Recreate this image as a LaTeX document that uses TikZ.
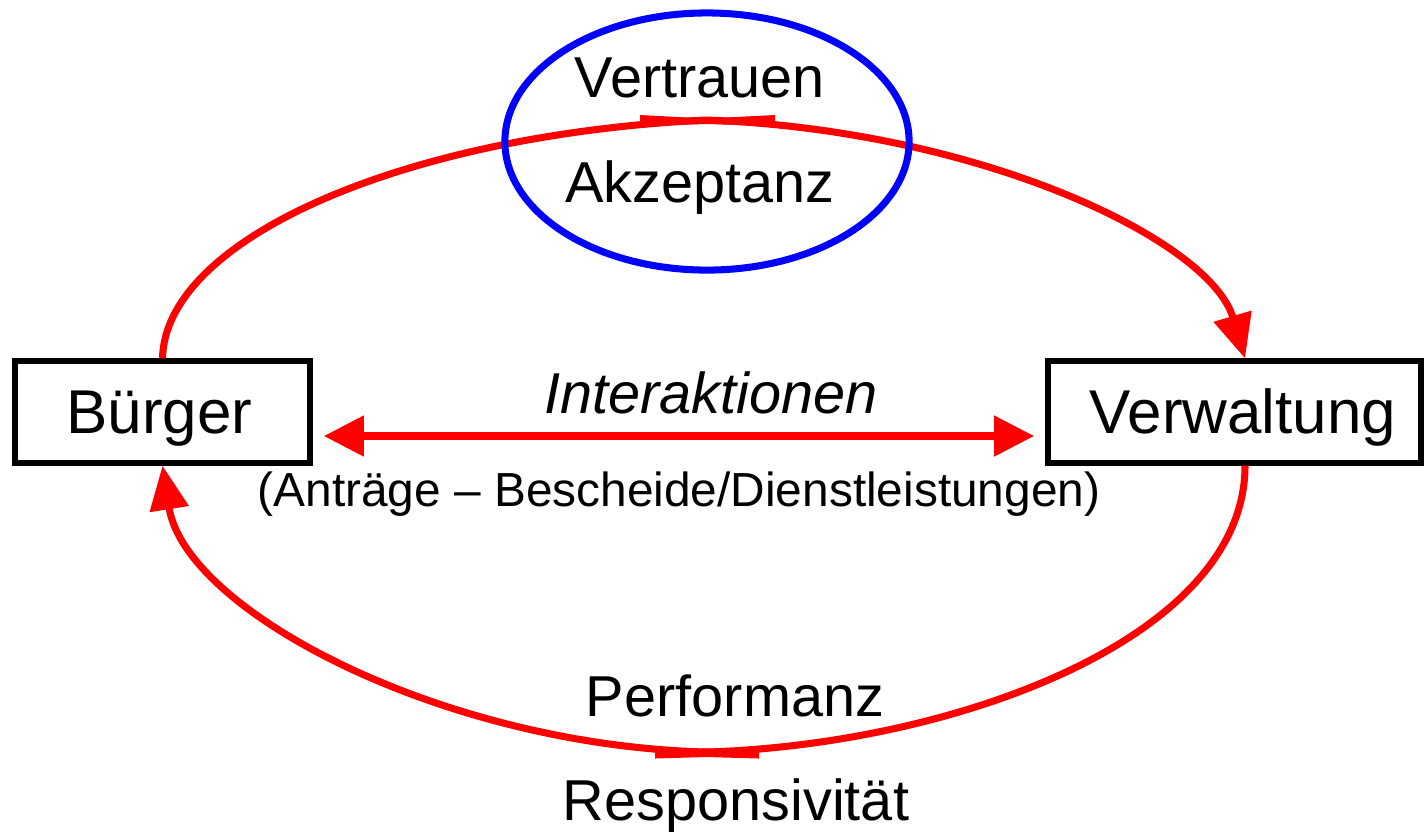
\documentclass[tikz,border=0pt]{standalone}
\usepackage{fontspec}
\setmainfont{Liberation Sans}
\usetikzlibrary{arrows.meta,shapes.geometric}
\begin{document}
\begin{tikzpicture}[x=0.01cm,y=-0.01cm,
  boxst/.style={draw=black,line width=1.5pt,rectangle,inner sep=0pt,minimum height=1.02cm},
  bigtxt/.style={font=\fontsize{17.6}{21}\selectfont,anchor=base,inner sep=0pt},
  midtxt/.style={font=\fontsize{16.4}{20}\selectfont,anchor=base,inner sep=0pt},
  smalltxt/.style={font=\fontsize{13.6}{16}\selectfont,anchor=base,inner sep=0pt},
  flow/.style={draw=red,line width=2pt,-{Triangle[length=12.5pt,width=10.8pt]}},
  dbl/.style={draw=red,line width=2.2pt,{Triangle[length=11.4pt,width=11.1pt]}-{Triangle[length=11.4pt,width=11.1pt]}},
  ringst/.style={draw=blue,line width=2pt,ellipse,inner sep=0pt,minimum width=4.04cm,minimum height=2.57cm},
  barst/.style={fill=red}
]
\useasboundingbox (0,0) rectangle (1424,832);
% boxes
\node[boxst,minimum width=2.95cm] (buerger) at (162.5,412) {};
\node[boxst,minimum width=3.73cm] (verw) at (1234.5,412) {};
\node[bigtxt] (tb) at (159.5,433) {Bürger};
\node[bigtxt] (tv) at (1243,433) {Verwaltung};
% upper arc
\draw[flow] (buerger.north) .. controls (165,240) and (400,135) .. (706,120)
  .. controls (980,130) and (1210,240) .. ([xshift=0.105cm]verw.north);
\fill[barst] (640,115) -- (706,118.5) -- (775,115) -- (775,126) -- (706,124) -- (640,126) -- cycle;
% lower arc
\draw[flow] ([xshift=0.105cm]verw.south) .. controls (1245,640) and (950,745) .. (706,752)
  .. controls (440,745) and (185,610) .. (buerger.south);
\fill[barst] (655,751.5) -- (706,748.5) -- (759,751.5) -- (759,758.5) -- (706,757) -- (655,758.5) -- cycle;
% ellipse
\node[ringst] (ring) at (707,141.5) {};
% interaction arrow
\draw[dbl,shorten <=0.11cm,shorten >=0.11cm] ([yshift=-0.24cm]buerger.east) -- ([yshift=-0.24cm]verw.west);
% texts
\node[midtxt] (vt) at (700,97) {Vertrauen};
\node[midtxt] (ak) at (700,202) {Akzeptanz};
\node[midtxt] (ia) at (711,413) {\itshape Interaktionen};
\node[smalltxt] (ab) at (679,506) {(Anträge – Bescheide/Dienstleistungen)};
\node[midtxt] (pf) at (735,716) {Performanz};
\node[midtxt] (rs) at (736,820) {Responsivität};
\end{tikzpicture}
\end{document}
